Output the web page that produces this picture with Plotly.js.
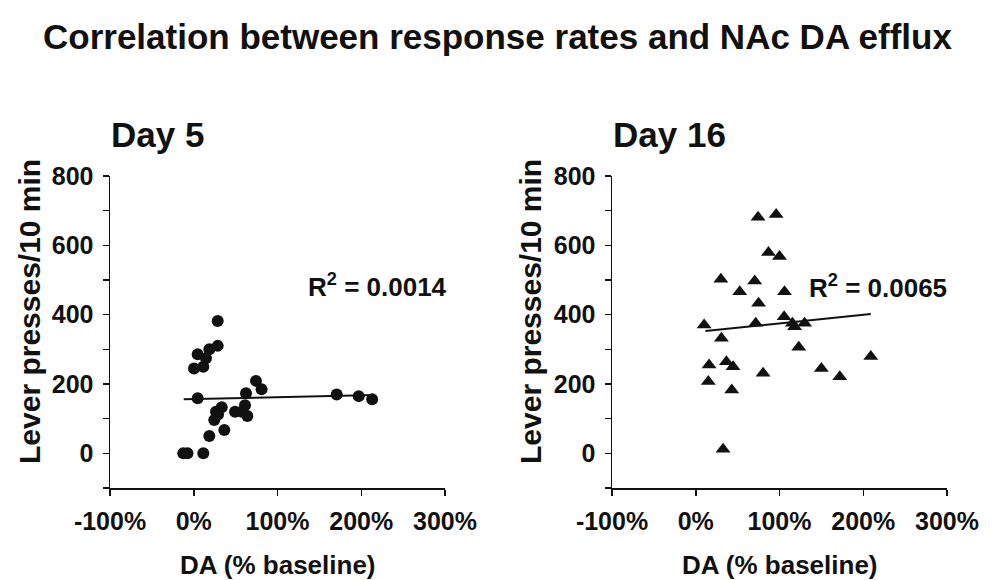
<!DOCTYPE html>
<html><head><meta charset="utf-8">
<script src="https://cdn.plot.ly/plotly-3.0.1.min.js"></script>
<style>html,body{margin:0;padding:0;background:#fff}#chart{width:995px;height:580px}</style>
</head><body><div id="chart"></div>
<script>
// Day 5 data: DA (% baseline) vs lever presses / 10 min
const day5X = [-12.5, -7.5, 11.4, 18.6, 36.5, 24.5, 26.6, 29, 33.4, 4.7, 0.3, 11.4, 14.6, 4.7, 18.6, 28.6, 28.6,
               49.3, 57.3, 61.2, 64, 62.4, 74.3, 81, 170.7, 197, 213];
const day5Y = [0, 0, 0, 50, 67, 96, 120, 112, 133, 159, 245, 250, 274, 286, 300, 310, 382,
               120, 120, 139, 108, 173, 209, 185, 170, 165, 156];
// Day 16 data
const day16X = [74.4, 96, 86.8, 100, 30, 70.4, 52.5, 106, 75, 10, 71.6, 105.5, 115.4, 118, 130, 30.6, 123,
                15.9, 36.6, 44.5, 15, 43, 80.4, 150, 172, 209, 32.6];
const day16Y = [681, 689, 579, 568, 502, 497, 466, 466, 433, 370, 375, 394, 375, 365, 375, 332, 306,
                255, 264, 250, 207, 183, 231, 245, 221, 279, 12];
// Linear trend lines (endpoints)
const trend5X = [-12, 216];
const trend5Y = [156, 168];
const trend16X = [11.5, 209];
const trend16Y = [353, 402];
const r2Labels = ["R<sup>2</sup> = 0.0014", "R<sup>2</sup> = 0.0065"];
const panelTitles = ["Day 5", "Day 16"];
const xTickVals = [-100, 0, 100, 200, 300];
const xTickText = ["-100%", "0%", "100%", "200%", "300%"];
const yTickVals = [-100, 0, 100, 200, 300, 400, 500, 600, 700, 800];
const yTickText = ["", "0", "", "200", "", "400", "", "600", "", "800"];

const FONT = "Liberation Sans, Arial, sans-serif";
const ink = "#111111";

const traces = [
  {x: day5X, y: day5Y, type: "scatter", mode: "markers", xaxis: "x", yaxis: "y",
   marker: {symbol: "circle", size: 12, color: ink}, hoverinfo: "skip"},
  {x: trend5X, y: trend5Y, type: "scatter", mode: "lines", xaxis: "x", yaxis: "y",
   line: {color: ink, width: 2}, hoverinfo: "skip"},
  {x: day16X, y: day16Y, type: "scatter", mode: "markers", xaxis: "x2", yaxis: "y2",
   marker: {symbol: "triangle-up", size: 13, color: ink}, hoverinfo: "skip"},
  {x: trend16X, y: trend16Y, type: "scatter", mode: "lines", xaxis: "x2", yaxis: "y2",
   line: {color: ink, width: 2}, hoverinfo: "skip"}
];

function xa(domain, anchor) {
  return {domain: domain, anchor: anchor, range: [-100, 300], tickvals: xTickVals, ticktext: xTickText,
    showgrid: false, zeroline: false, showline: true, linecolor: ink, linewidth: 1.5,
    ticks: "outside", ticklen: 6, tickwidth: 1.5, tickcolor: ink, ticklabelstandoff: 4,
    tickfont: {family: FONT, size: 25, color: ink, weight: "bold"}, fixedrange: true};
}
function ya(domain, anchor) {
  return {domain: domain, anchor: anchor, range: [-100, 800], tickvals: yTickVals, ticktext: yTickText,
    showgrid: false, zeroline: false, showline: true, linecolor: ink, linewidth: 1.5,
    ticks: "outside", ticklen: 6, tickwidth: 1.5, tickcolor: ink, ticklabelstandoff: 4,
    tickfont: {family: FONT, size: 25, color: ink, weight: "bold"}, fixedrange: true};
}

const yDom = [(580 - 488) / 580, (580 - 176) / 580];
const annFont = (s) => ({family: FONT, size: s, color: ink, weight: "bold"});
const py = (p) => 1 - p / 580;
const px = (p) => p / 995;
const layout = {
  width: 995, height: 580,
  margin: {l: 0, r: 0, t: 0, b: 0},
  paper_bgcolor: "#fff", plot_bgcolor: "#fff",
  showlegend: false,
  xaxis: xa([110 / 995, 445 / 995], "y"),
  yaxis: ya(yDom, "x"),
  xaxis2: xa([612 / 995, 947 / 995], "y2"),
  yaxis2: ya(yDom, "x2"),
  annotations: [
    {text: "<b>Correlation between response rates and NAc DA efflux</b>", xref: "paper", yref: "paper",
     x: px(497), y: py(36), xanchor: "center", yanchor: "middle", showarrow: false, font: annFont(35)},
    {text: "<b>" + panelTitles[0] + "</b>", xref: "paper", yref: "paper", x: px(109), y: py(134),
     xanchor: "left", yanchor: "middle", showarrow: false, font: annFont(35)},
    {text: "<b>" + panelTitles[1] + "</b>", xref: "paper", yref: "paper", x: px(611), y: py(134),
     xanchor: "left", yanchor: "middle", showarrow: false, font: annFont(35)},
    {text: "<b>Lever presses/10 min</b>", xref: "paper", yref: "paper", x: px(29), y: py(312),
     xanchor: "center", yanchor: "middle", textangle: -90, showarrow: false, font: annFont(30)},
    {text: "<b>Lever presses/10 min</b>", xref: "paper", yref: "paper", x: px(530), y: py(312),
     xanchor: "center", yanchor: "middle", textangle: -90, showarrow: false, font: annFont(30)},
    {text: "<b>DA (% baseline)</b>", xref: "paper", yref: "paper", x: px(278), y: py(565),
     xanchor: "center", yanchor: "middle", showarrow: false, font: annFont(26)},
    {text: "<b>DA (% baseline)</b>", xref: "paper", yref: "paper", x: px(780), y: py(565),
     xanchor: "center", yanchor: "middle", showarrow: false, font: annFont(26)},
    {text: "<b>" + r2Labels[0] + "</b>", xref: "paper", yref: "paper", x: px(377), y: py(285),
     xanchor: "center", yanchor: "middle", showarrow: false, font: annFont(26)},
    {text: "<b>" + r2Labels[1] + "</b>", xref: "paper", yref: "paper", x: px(878), y: py(287),
     xanchor: "center", yanchor: "middle", showarrow: false, font: annFont(26)}
  ]
};
Plotly.newPlot("chart", traces, layout, {staticPlot: true, displayModeBar: false});
</script></body></html>
